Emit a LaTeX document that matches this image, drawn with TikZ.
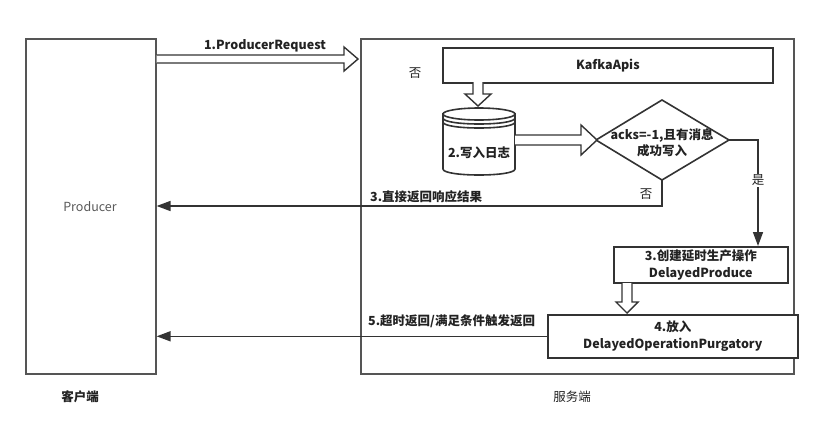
\documentclass[tikz,border=0pt]{standalone}
\usepackage{fontspec}
\setmainfont{Noto Sans CJK SC}
\usetikzlibrary{arrows.meta,calc}
\definecolor{linec}{HTML}{333333}
\definecolor{framec}{HTML}{555555}
\definecolor{txtc}{HTML}{222222}
\begin{document}
\begin{tikzpicture}[x=1pt,y=-1pt,
  line/.style={draw=linec, line width=1.6pt},
  frame/.style={draw=framec, line width=1.6pt, inner sep=0pt},
  boxn/.style={draw=linec, line width=1.6pt, fill=white, inner sep=0pt, align=center,
    font=\fontsize{12.5}{16.5}\selectfont\bfseries, text=txtc},
  lbl/.style={font=\fontsize{12.5}{16}\selectfont\bfseries, text=txtc, inner sep=0pt},
  lblr/.style={font=\fontsize{12.5}{16}\selectfont, text=txtc, inner sep=0pt},
  dbl/.style={draw=linec, line width=1.4pt, fill=white, line join=miter},
  tip/.style={-{Triangle[width=10pt,length=14pt]}}
]
\useasboundingbox (0,0) rectangle (816,437);

% client and server frames
\node[frame, anchor=north west, minimum width=130pt, minimum height=335pt] (prod) at (25,38) {};
\node[lblr, text=gray!70!black] (prodt) at (90,207) {Producer};
\node[frame, anchor=north west, minimum width=433pt, minimum height=335pt] (srv) at (360,38) {};
\node[lbl] (client) at (80,397) {客户端};
\node[lblr] (server) at (572,397) {服务端};

% KafkaApis
\node[boxn, anchor=north west, minimum width=330pt, minimum height=35pt] (kafka) at (442,47) {KafkaApis};
\node[lblr] (no1) at (415,73) {否};

% cylinder (log)
\filldraw[line, fill=white] (443,114) -- (443,169) .. controls (443,177) and (515,177) .. (515,169) -- (515,114) -- cycle;
\draw[line, fill=white] (479,114) ellipse [x radius=36, y radius=6];
\draw[line] (443,118) .. controls (443,126) and (515,126) .. (515,118);
\draw[line] (443,122) .. controls (443,130) and (515,130) .. (515,122);
\node[lbl] (log) at (479,153) {2.写入日志};

% decision diamond
\coordinate (dW) at (596,140);
\coordinate (dE) at (729,140);
\coordinate (dN) at (662,100);
\coordinate (dS) at (662,180);
\draw[line, fill=white] (dW) -- (dN) -- (dE) -- (dS) -- cycle;

% delayed produce boxes
\node[boxn, anchor=north west, minimum width=174pt, minimum height=36pt] (b3) at (613,246) {3.创建延时生产操作\\DelayedProduce};
\node[boxn, anchor=north west, minimum width=250pt, minimum height=43pt] (b4) at (547,314) {4.放入\\DelayedOperationPurgatory};

% double (hollow) arrows
\draw[dbl] (prod.east |- 0,55) -- (344,55) -- (344,47) -- (358,59) -- (344,71) -- (344,63) -- (prod.east |- 0,63);
\draw[dbl] (473,82) -- (473,94) -- (465,94) -- (478,106) -- (491,94) -- (483,94) -- (483,82);
\draw[dbl] (515,135) -- (581,135) -- (581,125) -- (597,140) -- (581,155) -- (581,145) -- (515,145);
\draw[dbl] (622,283) -- (622,302) -- (616,302) -- (627,313) -- (638,302) -- (632,302) -- (632,283);

\node[lbl, align=center] (dec) at (662,143) {acks=-1,且有消息\\成功写入};
\node[lbl] (l1) at (265,46) {1.ProducerRequest};

% yes branch
\coordinate (yesx) at (758,140);
\draw[line, tip] (dE) -- (yesx) -- (yesx |- b3.north);
\node[lblr, fill=white, inner sep=1pt] (yes) at (758,180) {是};

% no branch
\coordinate (nocorner) at (662,206);
\draw[line, tip] (dS) -- (nocorner) -- (nocorner -| prod.east);
\node[lbl, anchor=west] (l3) at (370,197) {3.直接返回响应结果};
\node[lblr] (no2) at (646,194) {否};

% return after purgatory
\draw[line, tip] (b4.west) -- (b4.west -| prod.east);
\node[lbl, anchor=west] (l5) at (368,321) {5.超时返回/满足条件触发返回};
\end{tikzpicture}
\end{document}
